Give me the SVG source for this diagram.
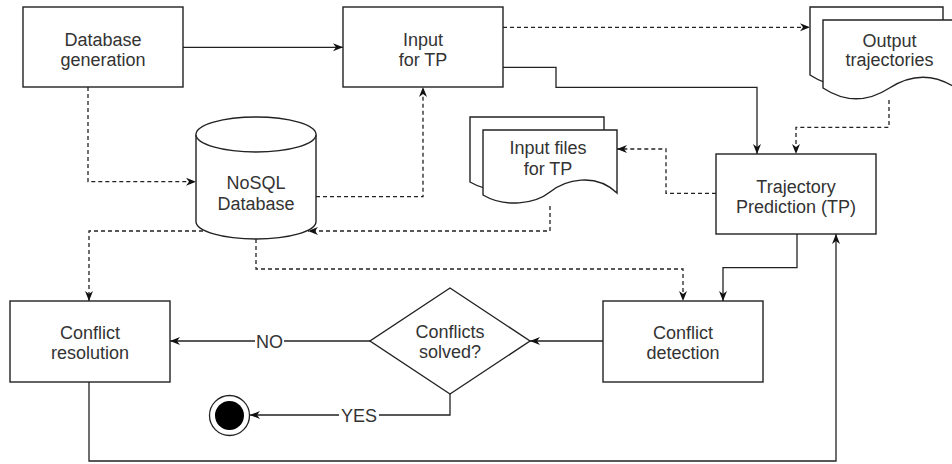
<svg xmlns="http://www.w3.org/2000/svg" width="952" height="464" viewBox="0 0 952 464">
<defs>
<style>
.n{fill:#fff;stroke:#222;stroke-width:1.4}
.t{font-family:"Liberation Sans",Arial,Helvetica,sans-serif;font-size:18px;fill:#333;text-anchor:middle}
.e{fill:none;stroke:#222;stroke-width:1.3}
.d{stroke-dasharray:4 3}
.lbl{fill:#fff}
</style>
<marker id="a" viewBox="0 0 10 10" markerWidth="10" markerHeight="10" refX="10" refY="5" orient="auto" markerUnits="userSpaceOnUse">
<path d="M0,1 L10,5 L0,9 L3,5 Z" fill="#111"/>
</marker>
</defs>
<rect width="952" height="464" fill="#fff"/>
<g id="connectors">
<path class="e" d="M183,47.3 H343" marker-end="url(#a)"/>
<path class="e d" d="M88,87 V181.7 H196" marker-end="url(#a)"/>
<path class="e d" d="M316,196.7 H423 V87" marker-end="url(#a)"/>
<path class="e d" d="M503,27.3 H810" marker-end="url(#a)"/>
<path class="e" d="M503,67.3 H556 V87.3 H757 V154" marker-end="url(#a)"/>
<path class="e d" d="M889,100 V127.3 H796 V154" marker-end="url(#a)"/>
<path class="e d" d="M716,193.3 H666 V149 H617" marker-end="url(#a)"/>
<path class="e d" d="M550,206 V231 H308" marker-end="url(#a)"/>
<path class="e d" d="M210,231 H89 V301" marker-end="url(#a)"/>
<path class="e d" d="M256,239 V269 H683 V301" marker-end="url(#a)"/>
<path class="e" d="M797,234 V267.7 H723 V301" marker-end="url(#a)"/>
<path class="e" d="M603,341 H530" marker-end="url(#a)"/>
<path class="e" d="M370,341 H170" marker-end="url(#a)"/>
<rect class="lbl" x="255" y="331" width="29" height="20"/>
<text class="t" x="269.5" y="347.5">NO</text>
<path class="e" d="M450,394 V415 H250" marker-end="url(#a)"/>
<rect class="lbl" x="339" y="405" width="40" height="20"/>
<text class="t" x="359" y="421.5">YES</text>
<path class="e" d="M89,382 V461 H836 V234" marker-end="url(#a)"/>
</g>
<g id="database-generation">
<rect class="n" x="23" y="7" width="160" height="80"/>
<text class="t" x="103" y="45.7">Database</text>
<text class="t" x="103" y="66.4">generation</text>
</g>
<g id="input-for-tp">
<rect class="n" x="343" y="7" width="160" height="80"/>
<text class="t" x="423" y="45.7">Input</text>
<text class="t" x="423" y="66.4">for TP</text>
</g>
<g id="nosql-database">
<path class="n" d="M196,134.5 A60,17.5 0 0 1 316,134.5 V221.5 A60,17.5 0 0 1 196,221.5 Z"/>
<path class="n" d="M196,134.5 A60,17.5 0 0 0 316,134.5" fill="none"/>
<text class="t" x="256" y="189">NoSQL</text>
<text class="t" x="256" y="210">Database</text>
</g>
<g id="output-trajectories">
<path class="n" d="M810,7 H943 V75 Q910,53.4 876.5,75 Q843,96.6 810,75 Z"/>
<path class="n" d="M823,20 H956 V88 Q923,66.4 889.5,88 Q856,109.6 823,88 Z"/>
<text class="t" x="889.5" y="46.5">Output</text>
<text class="t" x="889.5" y="66">trajectories</text>
</g>
<g id="input-files-for-tp">
<path class="n" d="M470,117 H604 V180 C582,159 552,167 537,179 C522,191 492,195 470,182 Z"/>
<path class="n" d="M483,130 H617 V193 C595,172 565,180 550,192 C535,204 505,208 483,195 Z"/>
<text class="t" x="548" y="154">Input files</text>
<text class="t" x="548" y="175">for TP</text>
</g>
<g id="trajectory-prediction">
<rect class="n" x="716" y="154" width="160" height="80"/>
<text class="t" x="796" y="192.7">Trajectory</text>
<text class="t" x="796" y="213.4">Prediction (TP)</text>
</g>
<g id="conflict-resolution">
<rect class="n" x="10" y="301" width="160" height="81"/>
<text class="t" x="90" y="338.5">Conflict</text>
<text class="t" x="90" y="359.2">resolution</text>
</g>
<g id="conflicts-solved">
<path class="n" d="M450,288 L530,341 L450,394 L370,341 Z"/>
<text class="t" x="450" y="337.5">Conflicts</text>
<text class="t" x="450" y="358.2">solved?</text>
</g>
<g id="conflict-detection">
<rect class="n" x="603" y="301" width="160" height="81"/>
<text class="t" x="683" y="338.5">Conflict</text>
<text class="t" x="683" y="359.2">detection</text>
</g>
<g id="end">
<circle cx="229.5" cy="415.5" r="20" fill="#fff" stroke="#222" stroke-width="1.3"/>
<circle cx="229.5" cy="415.5" r="14.5" fill="#000"/>
</g>
</svg>
